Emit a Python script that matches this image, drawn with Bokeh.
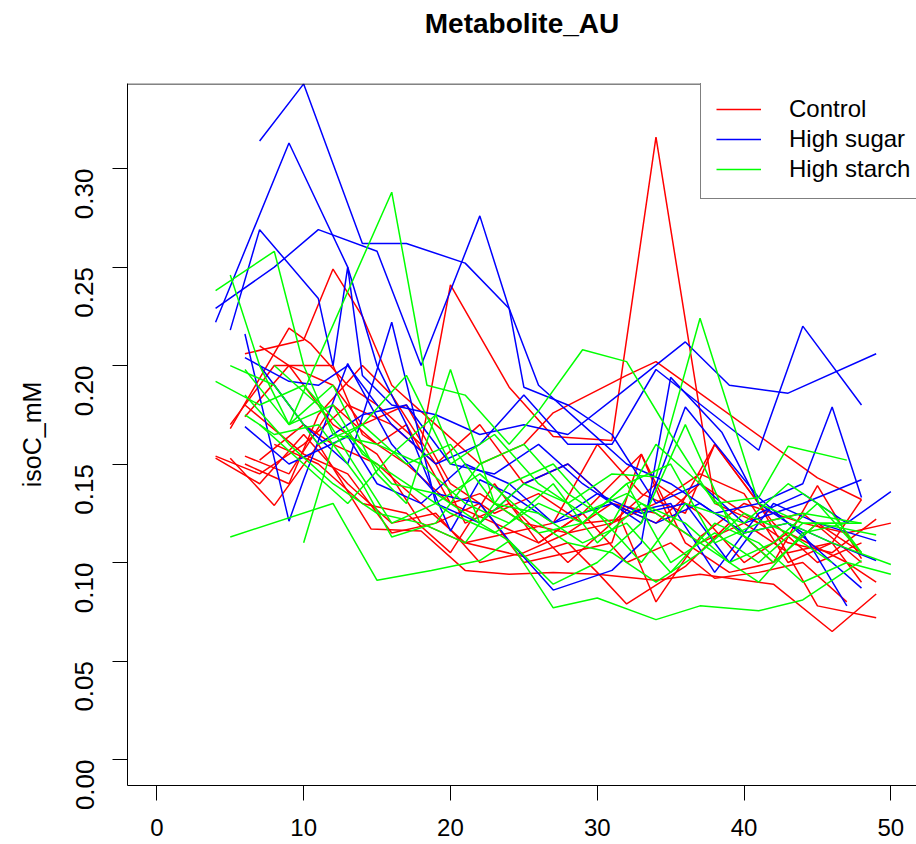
import math
from bokeh.plotting import figure
from bokeh.models import Range1d, FixedTicker, Span, Legend, LegendItem, ColumnDataSource, PrintfTickFormatter, Title
from bokeh.embed import file_html
from bokeh.resources import INLINE

title_text = "Metabolite_AU"
y_label = "isoC_mM"
group_names = ["Control", "High sugar", "High starch"]
group_colors = ["#FF0000", "#0000FF", "#00FF00"]
x_ticks = [0, 10, 20, 30, 40, 50]
y_ticks = [0.0, 0.05, 0.10, 0.15, 0.20, 0.25, 0.30]

control_weeks = [
    [5, 9, 10.5, 13, 15, 18, 20, 24, 27, 31, 34, 38, 41, 44, 48],
    [6, 10, 12, 14, 16, 19, 22, 25, 27, 32, 34, 45, 48],
    [4, 7, 10, 13, 16, 19, 22, 25, 28, 31, 34, 37, 40, 43, 46, 49],
    [6, 9, 12, 14, 17, 20, 23, 26, 29, 31.6, 34, 37, 40, 44, 47, 50],
    [5, 8, 11, 14.6, 18, 21, 24, 27, 30, 34, 37, 42, 46, 49],
    [6, 9, 12, 15, 17, 20, 23, 26, 29, 33, 35, 38, 41, 45, 49],
    [7, 10, 12, 15, 18, 21, 25, 28, 30, 32, 36, 39, 42, 45, 48],
    [6, 9, 11, 14, 16, 19, 21, 24, 28, 31, 34, 37, 40, 43, 47, 49],
    [4, 7, 10, 13, 16, 19, 22, 25, 28, 31, 34, 37, 40, 43, 46, 48],
    [5, 8, 10, 12, 14, 17, 20, 22, 25, 28, 31, 34, 37, 40, 43, 46, 48],
    [7, 9, 12, 15, 18, 21, 24, 27, 30, 33, 36, 38, 42, 45, 48],
    [6, 10, 13, 16, 19, 22, 25, 28, 31, 33, 36, 39, 42, 45, 48],
    [8, 11, 14, 17, 20, 23, 26, 29, 32, 35, 38, 41, 44, 47],
]
control_values = [
    [.168, .219, .211, .19, .18, .16, .241, .189, .164, .162, .316, .13, .12, .125, .1],
    [.206, .213, .249, .225, .19, .17, .15, .16, .176, .195, .202, .143, .132],
    [.154, .145, .16, .18, .17, .15, .17, .14, .15, .13, .12, .14, .125, .11, .105, .122],
    [.174, .2, .19, .17, .18, .14, .125, .135, .12, .122, .08, .113, .13, .12, .115, .12],
    [.153, .129, .16, .117, .116, .096, .094, .095, .094, .091, .094, .089, .065, .084],
    [.154, .145, .18, .16, .17, .13, .12, .11, .125, .155, .12, .16, .13, .078, .072],
    [.152, .17, .16, .15, .13, .11, .103, .11, .095, .079, .098, .12, .1, .139, .102],
    [.15, .14, .175, .2, .185, .15, .12, .13, .1, .12, .14, .125, .1, .115, .1, .09],
    [.153, .14, .165, .14, .12, .125, .1, .105, .115, .12, .13, .145, .135, .1, .11, .09],
    [.17, .2, .2, .2, .165, .15, .13, .135, .12, .115, .13, .125, .11, .12, .105, .11, .132],
    [.21, .2, .17, .155, .12, .11, .115, .12, .16, .135, .125, .16, .12, .1, .11],
    [.18, .155, .145, .115, .12, .13, .1, .105, .11, .155, .11, .095, .1, .12, .105],
    [.16, .15, .13, .125, .105, .14, .11, .125, .1, .11, .092, .095, .1, .08],
]

sugar_weeks = [
    [7, 10, 14, 17, 21, 24, 25, 28, 31, 34, 37, 40, 44, 48],
    [4, 9, 13, 15, 17, 18.5, 20, 22, 24, 27, 31, 33, 36, 41, 43, 46, 49],
    [4, 8, 11, 15, 18, 22, 24, 26, 29, 32, 35, 38, 41, 44, 47],
    [5, 7, 11, 12, 13, 14, 16, 19, 22, 25, 28, 31.6, 36, 39, 43, 49],
    [6, 9, 11, 13, 16, 19, 22, 25, 28, 31, 34, 41, 44, 48],
    [6, 9, 10, 13, 16, 19, 22, 24, 27, 31, 33, 35, 38.5, 41, 44, 46, 48],
    [6, 9, 13, 15, 18, 21, 24, 27, 30, 33, 36, 39, 42, 45, 49],
    [8, 11, 14, 17, 20, 23, 26, 29, 32, 35, 38, 41, 44, 47, 50],
    [7, 10, 13, 16, 19, 22, 25, 28, 31, 34, 37, 40, 43, 46, 48],
]
sugar_values = [
    [.314, .343, .262, .262, .252, .229, .189, .18, .165, .13, .14, .12, .13, .142],
    [.222, .313, .25, .2, .17, .142, .116, .142, .135, .12, .13, .12, .179, .133, .12, .11, .101],
    [.229, .25, .269, .258, .2, .276, .229, .19, .17, .15, .14, .125, .13, .115, .078],
    [.218, .269, .234, .2, .25, .195, .18, .175, .165, .17, .165, .186, .212, .19, .186, .206],
    [.204, .192, .19, .2, .17, .15, .16, .185, .16, .16, .198, .157, .22, .18],
    [.216, .121, .142, .201, .16, .135, .13, .111, .086, .096, .11, .194, .166, .13, .14, .179, .133],
    [.169, .15, .164, .14, .13, .15, .14, .12, .135, .125, .13, .1, .13, .12, .111],
    [.19, .16, .175, .18, .15, .145, .16, .14, .125, .13, .095, .125, .135, .12, .136],
    [.2, .17, .15, .222, .13, .12, .14, .15, .13, .12, .13, .115, .12, .1, .087],
]

starch_weeks = [
    [4, 8, 10, 12, 15, 18, 21, 24, 27, 30, 33, 36, 39, 42, 45, 48],
    [5, 7, 9, 12, 14, 17, 20, 23, 26, 29, 32, 35, 38, 41, 44, 47],
    [4, 7, 10, 13, 16, 19, 22, 25, 28, 31, 34, 37, 41, 44, 48],
    [5, 12, 15, 18.7, 22, 24, 27, 30, 34, 37, 41, 44, 48],
    [9, 16, 18.4, 21, 24, 26, 29, 32, 35, 38, 41, 43, 47],
    [6, 9, 12, 15, 17, 20, 23, 26, 29, 32, 35, 38, 41, 44, 48],
    [6, 8, 11, 14, 16, 19, 22, 25, 28, 31, 34, 37, 40, 43, 46, 50],
    [10, 12, 14, 17, 20, 23, 26, 29, 32, 35, 38, 41, 44, 47, 50],
    [7, 10, 13, 16, 19, 22, 24, 27, 30, 33, 36, 39, 42, 45, 49],
    [6, 9, 12, 15, 18, 21, 24, 27, 30, 33, 36, 40, 43, 46, 48],
    [8, 11, 13, 16, 19, 22, 25, 28, 31, 34, 37, 40, 43, 46],
    [5, 8, 11, 14, 17, 20, 23, 26, 29, 32, 35, 38, 41, 44, 47],
]
starch_values = [
    [.238, .258, .2, .165, .16, .15, .13, .12, .14, .11, .13, .12, .1, .11, .13, .105],
    [.246, .2, .17, .18, .155, .14, .125, .115, .13, .12, .14, .1, .115, .1, .12, .12],
    [.192, .18, .19, .165, .14, .135, .12, .14, .13, .145, .1435, .224, .13, .12, .12],
    [.113, .13, .091, .096, .101, .111, .077, .082, .071, .078, .0755, .081, .101],
    [.17, .288, .19, .185, .16, .177, .208, .202, .165, .13, .133, .159, .152],
    [.198, .17, .19, .145, .13, .198, .13, .115, .12, .14, .15, .11, .12, .125, .12],
    [.175, .165, .17, .14, .113, .12, .15, .16, .135, .12, .16, .14, .115, .12, .11, .099],
    [.11, .16, .17, .15, .16, .13, .125, .11, .12, .095, .12, .11, .09, .1, .094],
    [.17, .15, .13, .155, .175, .12, .111, .089, .1, .12, .17, .12, .1, .12, .114],
    [.185, .16, .14, .125, .12, .11, .14, .15, .125, .1, .13, .12, .14, .125, .105],
    [.2, .18, .155, .12, .13, .145, .125, .11, .105, .09, .105, .125, .115, .1],
    [.2, .19, .16, .17, .195, .15, .165, .14, .125, .135, .12, .105, .09, .115, .12],
]

FONT = "Liberation Sans"

p = figure(width=916, height=844, output_backend="svg", toolbar_location=None,
           x_range=Range1d(-2, -2 + 789 / 14.68), y_range=Range1d(-0.0132, 0.3432),
           min_border_left=127, min_border_right=0, min_border_top=82, min_border_bottom=59)
p.outline_line_color = None
p.xgrid.grid_line_color = None
p.ygrid.grid_line_color = None
p.background_fill_color = "white"
p.border_fill_color = "white"

p.title.text = title_text
p.title.align = "center"
p.title.text_font = FONT
p.title.text_font_size = "28px"
p.title.text_font_style = "bold"
p.title.text_color = "black"
p.title.standoff = 10
# empty spacer between the title and the frame
p.add_layout(Title(text=" ", text_font_size="2px", standoff=36), "above")

p.xaxis.ticker = FixedTicker(ticks=x_ticks)
p.yaxis.ticker = FixedTicker(ticks=y_ticks)
p.yaxis.formatter = PrintfTickFormatter(format="%.2f")
for ax in (p.xaxis[0], p.yaxis[0]):
    ax.axis_line_color = "black"
    ax.axis_line_width = 1
    ax.major_tick_line_color = "black"
    ax.major_tick_out = 15
    ax.major_tick_in = 0
    ax.minor_tick_line_color = None
    ax.major_label_text_font = FONT
    ax.major_label_text_color = "black"
p.xaxis.major_label_text_font_size = "24px"
p.yaxis.major_label_text_font_size = "26px"
p.xaxis.major_label_standoff = 18
p.yaxis.major_label_standoff = 28
p.yaxis.major_label_orientation = math.pi / 2
p.yaxis.axis_label = y_label
p.yaxis.axis_label_text_font = FONT
p.yaxis.axis_label_text_font_size = "25px"
p.yaxis.axis_label_text_font_style = "normal"
p.yaxis.axis_label_text_color = "black"
p.yaxis.axis_label_standoff = 18

p.add_layout(Span(location=0.34295, dimension="width", line_color="black", line_width=1))

renderers = []
for name, color, weeks, vals in zip(group_names, group_colors,
                                    [control_weeks, sugar_weeks, starch_weeks],
                                    [control_values, sugar_values, starch_values]):
    src = ColumnDataSource(dict(xs=weeks, ys=vals))
    r = p.multi_line(xs="xs", ys="ys", source=src, line_color=color, line_width=1.5)
    renderers.append((name, r))

legend = Legend(items=[LegendItem(label=n, renderers=[r]) for n, r in renderers],
                location=(573, 586))
legend.label_text_font = FONT
legend.label_text_font_size = "24px"
legend.label_text_color = "black"
legend.glyph_width = 45
legend.glyph_height = 20
legend.label_height = 20
legend.label_standoff = 28
legend.spacing = 2
legend.padding = 15
legend.margin = 0
legend.border_line_color = "black"
legend.border_line_width = 1
legend.background_fill_color = "white"
legend.background_fill_alpha = 1
p.add_layout(legend)

open("out.html", "w").write(file_html(p, INLINE))
